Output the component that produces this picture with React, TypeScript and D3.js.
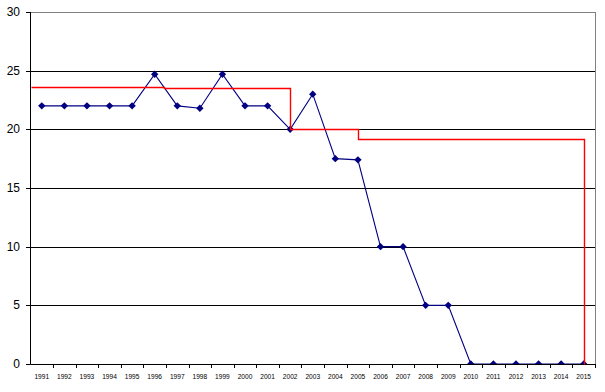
import React from "react";
import * as d3 from "d3";

const years = [
  "1991","1992","1993","1994","1995","1996","1997","1998","1999","2000",
  "2001","2002","2003","2004","2005","2006","2007","2008","2009","2010",
  "2011","2012","2013","2014","2015",
];
const values = [
  22, 22, 22, 22, 22, 24.7, 22, 21.8, 24.7, 22,
  22, 20, 23, 17.5, 17.4, 10, 10, 5, 5, 0,
  0, 0, 0, 0, 0,
];
// red step line: [year index position, value]
const stepIdx = [-0.5, 5.4, 5.4, 11, 11, 14, 14, 24, 24];
const stepVals = [23.6, 23.6, 23.5, 23.5, 20, 20, 19.2, 19.2, 0];
const yTicks = [0, 5, 10, 15, 20, 25, 30];

const W = 605, H = 392;
const L = 30.5, R = 595, T = 12, B = 364;

export default function App() {
  const x = d3.scaleBand<string>().domain(years).range([L, R]).padding(0);
  const bw = x.bandwidth();
  const cx = (i: number) => L + bw * (i + 0.5);
  const y = d3.scaleLinear().domain([0, 30]).range([B, T]);
  const snap = (v: number) => Math.round(v) + 0.5;

  const blueLine = d3.line<number>().x((_, i) => cx(i)).y((v) => y(v))(values) || "";
  const redLine =
    d3
      .line<number>()
      .x((_, i) => snap(cx(stepIdx[i])))
      .y((v) => snap(y(v)))(stepVals) || "";

  const diamond = (px: number, py: number) =>
    `M${px},${py - 3.7}L${px + 3.7},${py}L${px},${py + 3.7}L${px - 3.7},${py}Z`;

  return (
    <svg
      width={W}
      height={H}
      style={{ position: "absolute", left: 0, top: 0, background: "#fff" }}
      fontFamily="Liberation Sans, Arial, sans-serif"
    >
      <defs>
        <clipPath id="plot">
          <rect x={L} y={T - 5} width={R - L} height={B - T + 5} />
        </clipPath>
      </defs>
      {/* gridlines */}
      {yTicks.filter((t) => t > 0 && t < 30).map((t) => (
        <line key={t} x1={L} x2={R} y1={snap(y(t))} y2={snap(y(t))} stroke="#000" />
      ))}
      {/* plot border top/right */}
      <line x1={L} x2={R} y1={T + 0.5} y2={T + 0.5} stroke="#808080" />
      <line x1={R + 0.5} x2={R + 0.5} y1={T} y2={B} stroke="#808080" />
      {/* axes */}
      <line x1={L} x2={L} y1={T} y2={B + 0.5} stroke="#000" />
      <line x1={L} x2={R + 1} y1={B + 0.5} y2={B + 0.5} stroke="#000" />
      {yTicks.map((t) => (
        <g key={t}>
          <line x1={26} x2={L} y1={snap(y(t))} y2={snap(y(t))} stroke="#000" />
          <text x={20} y={y(t) + 4} textAnchor="end" fontSize={12} fill="#000">
            {t}
          </text>
        </g>
      ))}
      {years.map((yr, i) => (
        <g key={yr}>
          <line
            x1={snap(L + bw * (i + 1))}
            x2={snap(L + bw * (i + 1))}
            y1={B}
            y2={B + 4}
            stroke="#000"
          />
          <text x={cx(i)} y={378.5} textAnchor="middle" fontSize={6.6} fill="#000">
            {yr}
          </text>
        </g>
      ))}
      {/* blue line */}
      <g clipPath="url(#plot)">
        <path d={blueLine} fill="none" stroke="#000080" strokeWidth={1.1} />
        {values.map((v, i) => (
          <path key={i} d={diamond(cx(i), y(v))} fill="#000080" />
        ))}
      </g>
      {/* red line */}
      <path d={redLine} fill="none" stroke="#ff0000" strokeWidth={1.4} />
    </svg>
  );
}
